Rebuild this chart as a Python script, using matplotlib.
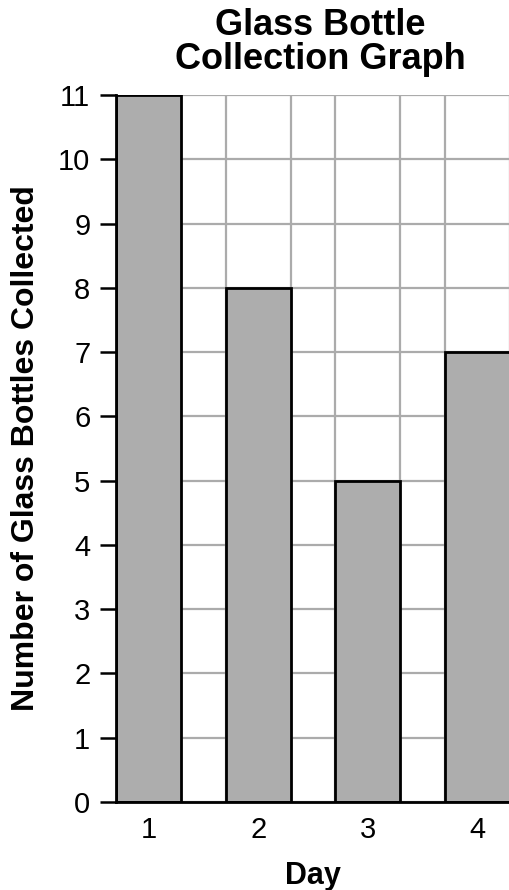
import numpy as np
import matplotlib.pyplot as plt

plt.rcParams['font.family'] = ['Liberation Sans', 'DejaVu Sans']

# data
days = [1, 2, 3, 4]
day_labels = ['1', '2', '3', '4']
bottles = [11, 8, 5, 7]
y_ticks = list(range(0, 12))

BAR_W = 0.59

fig = plt.figure(figsize=(5.1, 8.9), dpi=100)
ax = fig.add_axes([116 / 510, 88 / 890, 1 - 116 / 510, (802 - 95) / 890])

ax.bar(days, bottles, width=BAR_W, color='#adadad', edgecolor='black',
       linewidth=2, zorder=3)

# x limits: start at the first bar's left edge, cut through the last bar
x0 = days[0] - BAR_W / 2
ax.set_xlim(x0, x0 + 3.566)
ax.set_ylim(0, 11)

ax.set_xticks(days)
ax.set_xticklabels(day_labels)
ax.set_yticks(y_ticks)

# vertical grid lines sit on the bar edges
edges = sorted([d - BAR_W / 2 for d in days] + [d + BAR_W / 2 for d in days])
ax.set_xticks(edges, minor=True)
ax.grid(which='minor', axis='x', color='#ababab', linewidth=1.6, zorder=0)
ax.grid(which='major', axis='y', color='#ababab', linewidth=1.6, zorder=0)
ax.set_axisbelow(True)

ax.tick_params(axis='x', which='both', length=0, pad=10, labelsize=21)
ax.tick_params(axis='y', length=11.5, width=1.8, pad=7, labelsize=21)

for s in ['top', 'right']:
    ax.spines[s].set_visible(False)
for s in ['left', 'bottom']:
    ax.spines[s].set_linewidth(2)
    ax.spines[s].set_zorder(4)

ax.set_xlabel('Day', fontsize=22, fontweight='bold', labelpad=12)
ax.set_ylabel('Number of Glass Bottles Collected', fontsize=23,
              fontweight='bold', labelpad=12)

fig.text(320 / 510, 1 - 8 / 890, 'Glass Bottle\nCollection Graph',
         ha='center', va='top', fontsize=26, fontweight='bold',
         linespacing=0.95)

fig.savefig('out.png', dpi=100)
